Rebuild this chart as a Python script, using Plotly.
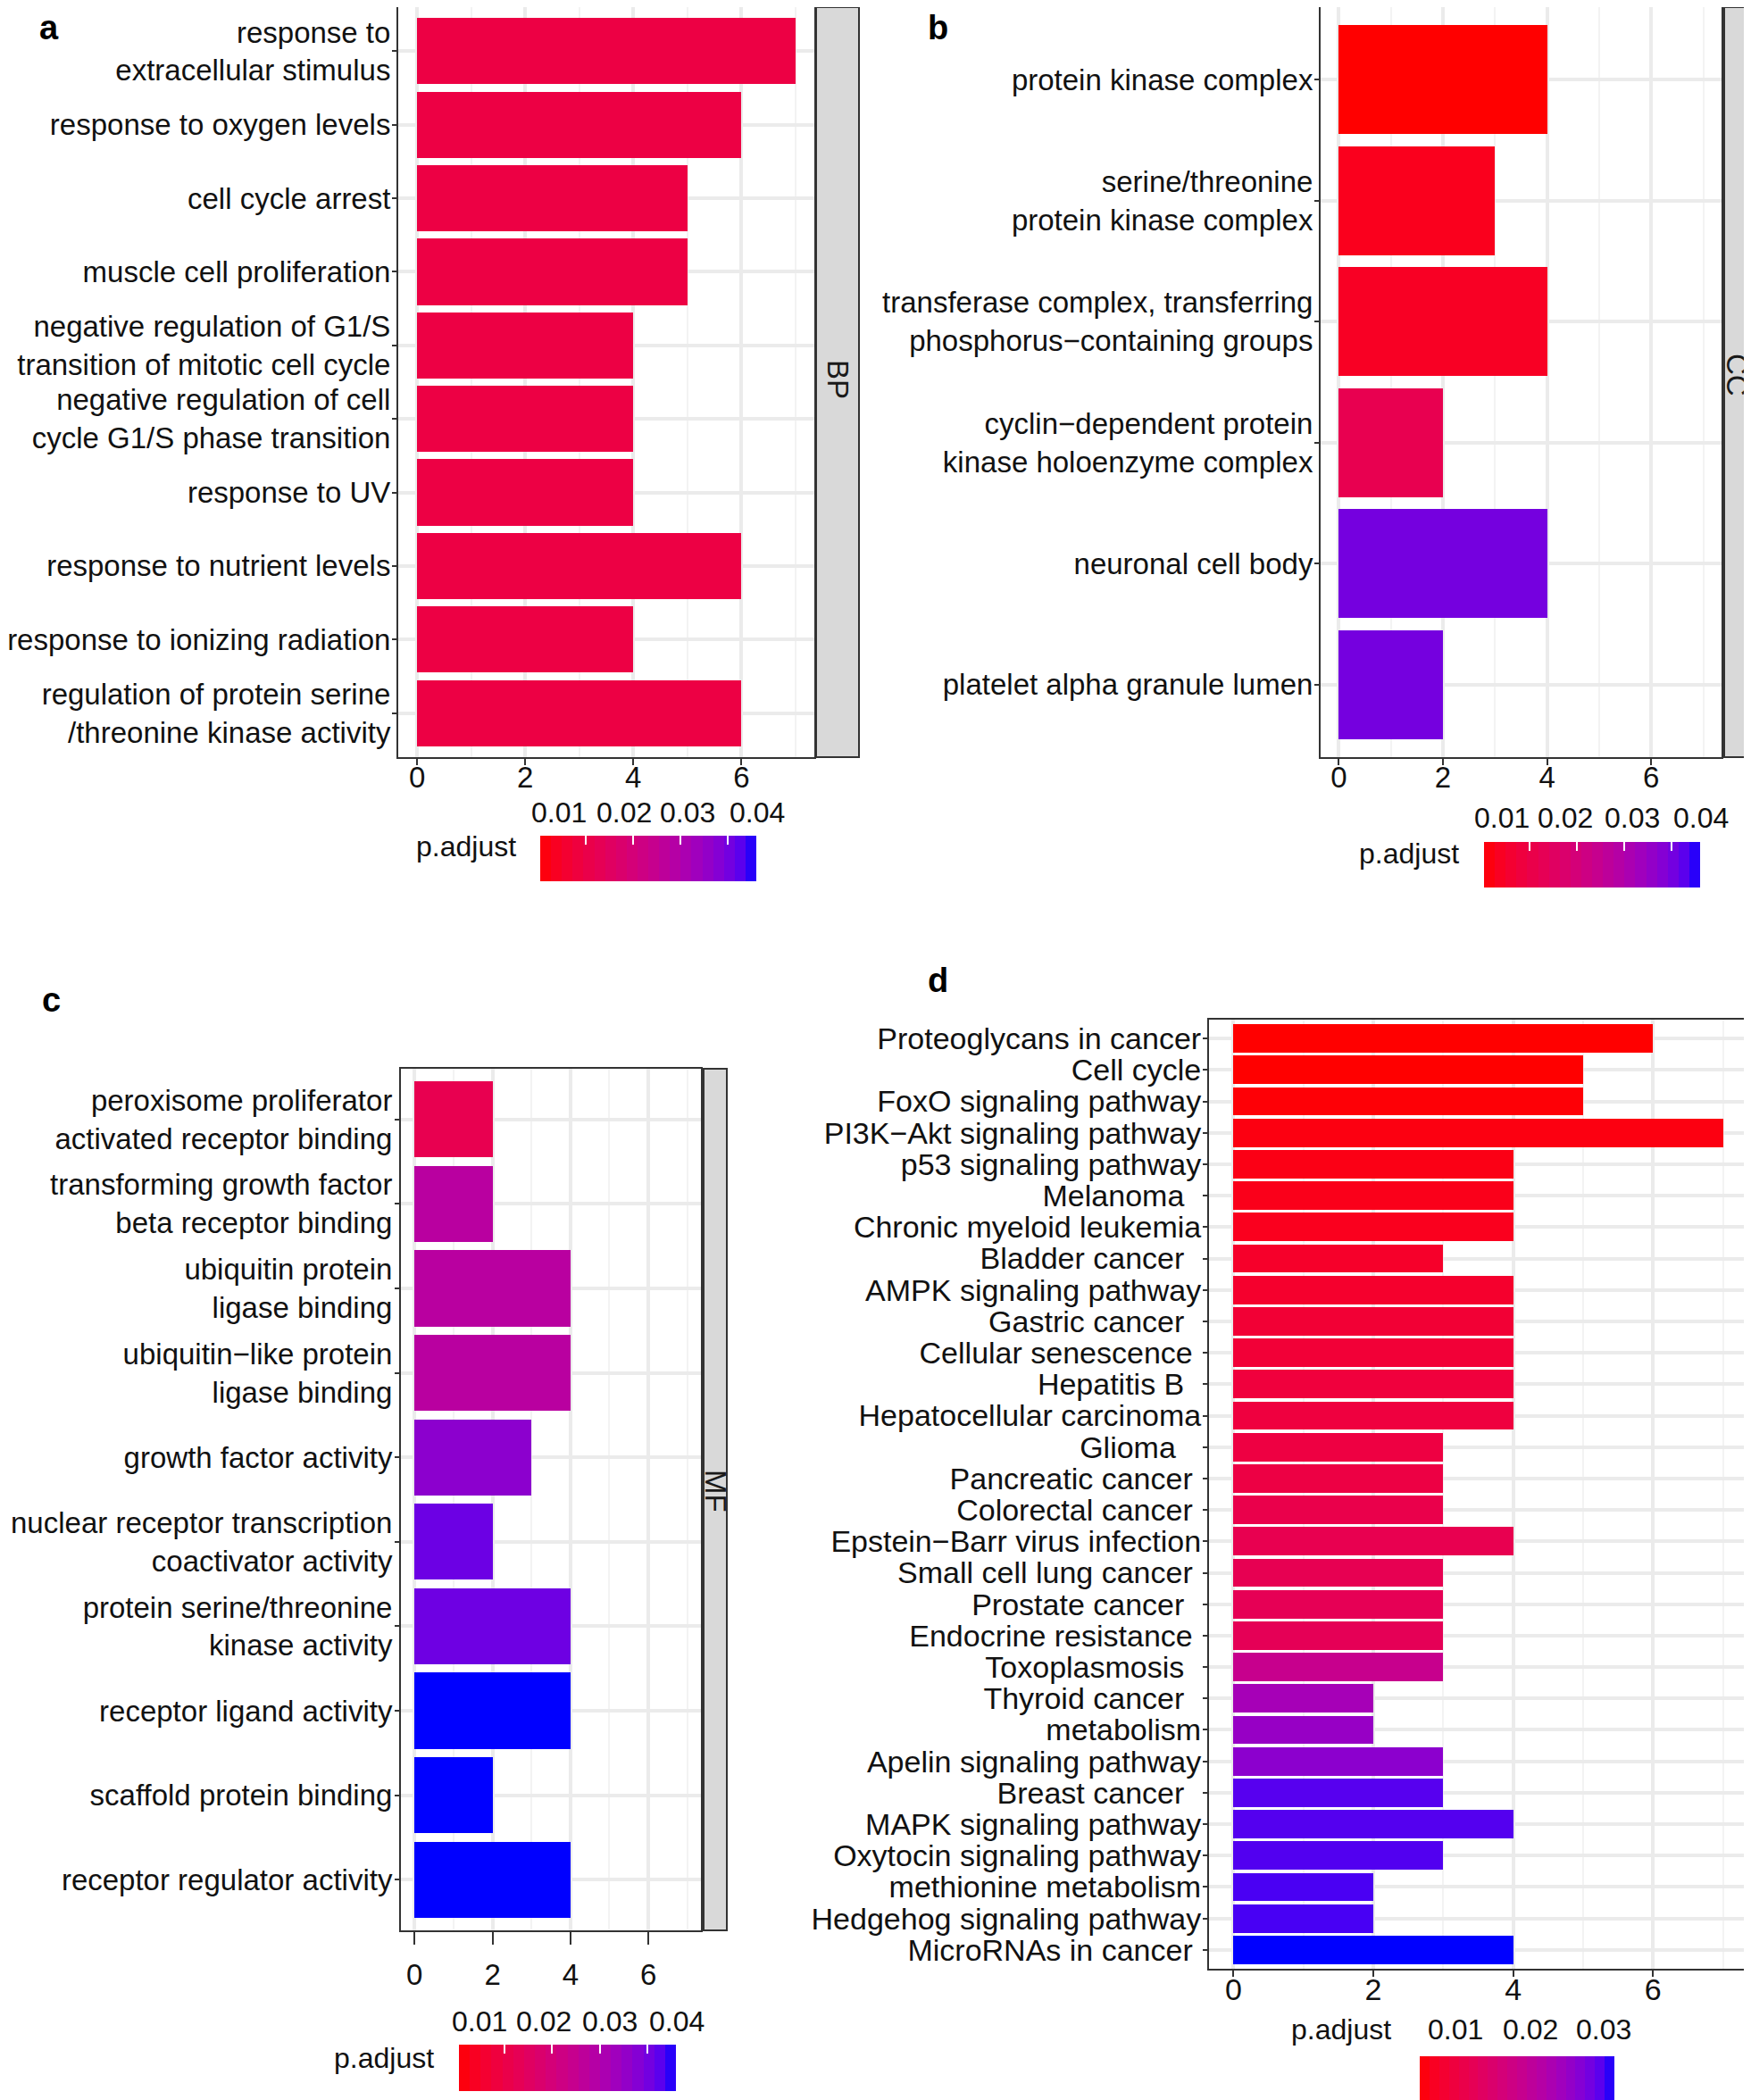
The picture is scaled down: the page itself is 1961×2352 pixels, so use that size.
import numpy as np
import plotly.graph_objects as go

W, H = 1961, 2352
OFF = 8  # the page body adds an 8 px margin; reference coordinates are shifted by it
FONT = "Liberation Sans, Arial, Helvetica, sans-serif"

# ---------------- data ----------------
BP_TERMS = [
    "response to<br>extracellular stimulus",
    "response to oxygen levels",
    "cell cycle arrest",
    "muscle cell proliferation",
    "negative regulation of G1/S<br>transition of mitotic cell cycle",
    "negative regulation of cell<br>cycle G1/S phase transition",
    "response to UV",
    "response to nutrient levels",
    "response to ionizing radiation",
    "regulation of protein serine<br>/threonine kinase activity",
]
BP_COUNT = [7, 6, 5, 5, 4, 4, 4, 6, 4, 6]
BP_PADJ = [0.0096, 0.0096, 0.0096, 0.0096, 0.0096, 0.0096, 0.0096, 0.0096, 0.0096, 0.0096]

CC_TERMS = [
    "protein kinase complex",
    "serine/threonine<br>protein kinase complex",
    "transferase complex, transferring<br>phosphorus\u2212containing groups",
    "cyclin\u2212dependent protein<br>kinase holoenzyme complex",
    "neuronal cell body",
    "platelet alpha granule lumen",
]
CC_COUNT = [4, 3, 4, 2, 4, 2]
CC_PADJ = [0.0005, 0.0032, 0.0041, 0.0119, 0.0401, 0.0401]

MF_TERMS = [
    "peroxisome proliferator<br>activated receptor binding",
    "transforming growth factor<br>beta receptor binding",
    "ubiquitin protein<br>ligase binding",
    "ubiquitin\u2212like protein<br>ligase binding",
    "growth factor activity",
    "nuclear receptor transcription<br>coactivator activity",
    "protein serine/threonine<br>kinase activity",
    "receptor ligand activity",
    "scaffold protein binding",
    "receptor regulator activity",
]
MF_COUNT = [2, 2, 4, 4, 3, 2, 4, 4, 2, 4]
MF_PADJ = [0.0119, 0.0278, 0.0278, 0.0278, 0.0369, 0.0410, 0.0408, 0.0460, 0.0460, 0.0460]

KEGG_TERMS = [
    "Proteoglycans in cancer",
    "Cell cycle",
    "FoxO signaling pathway",
    "PI3K\u2212Akt signaling pathway",
    "p53 signaling pathway",
    "Melanoma\u00a0\u00a0",
    "Chronic myeloid leukemia",
    "Bladder cancer\u00a0\u00a0",
    "AMPK signaling pathway",
    "Gastric cancer\u00a0\u00a0",
    "Cellular senescence\u00a0",
    "Hepatitis B\u00a0\u00a0",
    "Hepatocellular carcinoma",
    "Glioma\u00a0\u00a0\u00a0",
    "Pancreatic cancer\u00a0",
    "Colorectal cancer\u00a0",
    "Epstein\u2212Barr virus infection",
    "Small cell lung cancer\u00a0",
    "Prostate cancer\u00a0\u00a0",
    "Endocrine resistance\u00a0",
    "Toxoplasmosis\u00a0\u00a0",
    "Thyroid cancer\u00a0\u00a0",
    "metabolism",
    "Apelin signaling pathway",
    "Breast cancer\u00a0\u00a0",
    "MAPK signaling pathway",
    "Oxytocin signaling pathway",
    "methionine metabolism",
    "Hedgehog signaling pathway",
    "MicroRNAs in cancer\u00a0",
]
KEGG_COUNT = [6, 5, 5, 7, 4, 4, 4, 3, 4, 4, 4, 4, 4, 3, 3, 3, 4, 3, 3, 3,
              3, 2, 2, 3, 3, 4, 3, 2, 2, 4]
KEGG_PADJ = [0.0051, 0.0051, 0.0054, 0.0059, 0.0061, 0.0064, 0.0067, 0.0077,
             0.0080, 0.0088, 0.0090, 0.0096, 0.0098, 0.0101, 0.0103, 0.0111,
             0.0117, 0.0119, 0.0122, 0.0124, 0.0187, 0.0234, 0.0250, 0.0261,
             0.0295, 0.0296, 0.0297, 0.0300, 0.0301, 0.0313]

COUNT_TICKS = [0, 2, 4, 6]
COUNT_MINOR = [1, 3, 5, 7]
PADJ_TICKS_GO = [0.01, 0.02, 0.03, 0.04]
PADJ_TICKS_KEGG = [0.01, 0.02, 0.03]
PADJ_LIMITS_GO = (0.0005, 0.0460)
PADJ_LIMITS_KEGG = (0.0051, 0.0313)


# ---------------- colour scale: red -> blue interpolated in CIELAB ----------------
_M = np.array([[0.4124, 0.3576, 0.1805], [0.2126, 0.7152, 0.0722], [0.0193, 0.1192, 0.9505]])
_MI = np.linalg.inv(_M)
_WP = np.array([0.95047, 1.0, 1.08883])


def _to_lab(rgb):
    c = np.array(rgb) / 255.0
    lin = np.where(c <= 0.04045, c / 12.92, ((c + 0.055) / 1.055) ** 2.4)
    xyz = _M @ lin / _WP
    d = 6 / 29
    f = np.where(xyz > d ** 3, np.cbrt(xyz), xyz / (3 * d * d) + 4 / 29)
    return np.array([116 * f[1] - 16, 500 * (f[0] - f[1]), 200 * (f[1] - f[2])])


def _from_lab(lab):
    L, a, b = lab
    fy = (L + 16) / 116
    f = np.array([fy + a / 500, fy, fy - b / 200])
    d = 6 / 29
    xyz = np.where(f > d, f ** 3, 3 * d * d * (f - 4 / 29)) * _WP
    lin = np.clip(_MI @ xyz, 0, 1)
    c = np.where(lin <= 0.0031308, 12.92 * lin, 1.055 * lin ** (1 / 2.4) - 0.055)
    r, g, bb = np.clip(np.round(c * 255), 0, 255).astype(int)
    return f"rgb({r},{g},{bb})"


_lo, _hi = _to_lab((255, 0, 0)), _to_lab((0, 0, 255))
CSCALE = [[t, _from_lab(_lo + (_hi - _lo) * t)] for t in np.linspace(0, 1, 25)]


# ---------------- helpers ----------------
def px(x):
    return (x - OFF) / W


def py(y):
    return 1 - (y - OFF) / H


def clamp(v):
    return min(1.0, max(0.0, v))


fig = go.Figure()

AX_COL = "#333333"
GRID = "#EBEBEB"
GRID_MINOR = "#F3F3F3"


def add_panel(k, terms, counts, padj, limits, xdom, ydom, ticklen_x=7, standoff_x=-15,
              fsize=33, standoff_y=-5):
    n = len(terms)
    xa, ya = (f"x{k}", f"y{k}") if k > 1 else ("x", "y")
    fig.add_trace(go.Bar(
        x=counts, y=list(range(n)), orientation="h", width=0.9,
        marker=dict(color=padj, colorscale=CSCALE, cmin=limits[0], cmax=limits[1],
                    line=dict(width=0)),
        showlegend=False, hoverinfo="x+y", xaxis=xa, yaxis=ya))
    name = "" if k == 1 else str(k)
    fig.layout[f"xaxis{name}"] = dict(
        domain=[clamp(px(xdom[0])), clamp(px(xdom[1]))], anchor=ya, range=[-0.35, 7.35],
        automargin=False,
        tickmode="array", tickvals=COUNT_TICKS, ticks="outside", ticklen=ticklen_x,
        tickwidth=2, tickcolor=AX_COL, ticklabelstandoff=standoff_x,
        showline=True, mirror=True, linecolor=AX_COL, linewidth=2,
        showgrid=True, gridcolor=GRID, gridwidth=3.5, zeroline=False,
        minor=dict(tickvals=COUNT_MINOR, showgrid=True, gridcolor=GRID_MINOR, gridwidth=2),
        tickfont=dict(size=fsize, color="#111111", family=FONT), layer="below traces")
    fig.layout[f"yaxis{name}"] = dict(
        domain=[clamp(py(ydom[1])), clamp(py(ydom[0]))], anchor=xa, range=[n - 0.4, -0.6],
        automargin=False,
        tickmode="array", tickvals=list(range(n)), ticktext=terms,
        ticks="outside", ticklen=5, tickwidth=2, tickcolor=AX_COL, ticklabelstandoff=standoff_y,
        showline=True, mirror=True, linecolor=AX_COL, linewidth=2,
        showgrid=True, gridcolor=GRID, gridwidth=3.5, zeroline=False,
        tickfont=dict(size=fsize, color="#111111", family=FONT), layer="below traces")


def add_cbar(k, limits, ticks, xdom, ydom, show_ticks=True):
    edges = np.linspace(limits[0], limits[1], 21)
    mids = (edges[:-1] + edges[1:]) / 2
    fig.add_trace(go.Heatmap(
        x=edges, y=[0, 1], z=[mids], colorscale=CSCALE, zmin=limits[0], zmax=limits[1],
        showscale=False, hoverinfo="skip", xaxis=f"x{k}", yaxis=f"y{k}"))
    fig.layout[f"xaxis{k}"] = dict(
        domain=[clamp(px(xdom[0])), clamp(px(xdom[1]))], anchor=f"y{k}", range=list(limits),
        automargin=False,
        side="top", tickmode="array", tickvals=ticks, ticks="inside" if show_ticks else "",
        ticklen=10, tickwidth=2, tickcolor="white", showticklabels=False,
        showgrid=False, zeroline=False, showline=False, layer="above traces")
    fig.layout[f"yaxis{k}"] = dict(
        domain=[clamp(py(ydom[1])), clamp(py(ydom[0]))], anchor=f"x{k}", range=[0, 1],
        automargin=False, visible=False)


# panels
add_panel(1, BP_TERMS, BP_COUNT, BP_PADJ, PADJ_LIMITS_GO, (446, 912), (2, 848))
add_panel(2, CC_TERMS, CC_COUNT, CC_PADJ, PADJ_LIMITS_GO, (1479, 1928), (3, 848))
add_panel(3, MF_TERMS, MF_COUNT, MF_PADJ, PADJ_LIMITS_GO, (449, 785), (1197, 2162),
          ticklen_x=14, standoff_x=5, standoff_y=-4)
add_panel(4, KEGG_TERMS, KEGG_COUNT, KEGG_PADJ, PADJ_LIMITS_KEGG,
          (1354, 1957), (1142, 2205), ticklen_x=7, standoff_x=-15, fsize=34, standoff_y=-5)

# colour bars
add_cbar(5, PADJ_LIMITS_GO, PADJ_TICKS_GO, (605, 847), (936, 987))
add_cbar(6, PADJ_LIMITS_GO, PADJ_TICKS_GO, (1662, 1904), (943, 994))
add_cbar(7, PADJ_LIMITS_GO, PADJ_TICKS_GO, (514, 757), (2290, 2342))
add_cbar(8, PADJ_LIMITS_KEGG, PADJ_TICKS_KEGG, (1590, 1808), (2303, 2360), show_ticks=False)

annotations = []
shapes = []


def ann(text, x, y, size=33, bold=False, angle=0, xanchor="center", yanchor="middle", color="#111111"):
    annotations.append(dict(
        text=f"<b>{text}</b>" if bold else text, x=px(x), y=min(py(y), 1.0), xref="paper",
        yref="paper", showarrow=False, textangle=angle, xanchor=xanchor, yanchor=yanchor,
        font=dict(size=size, color=color, family=FONT)))


# panel letters
ann("a", 55, 8, size=38, bold=True, color="black", yanchor="top")
ann("b", 1050, 8, size=38, bold=True, color="black", yanchor="top")
ann("c", 57, 1120, size=38, bold=True, color="black")
ann("d", 1050, 1098, size=38, bold=True, color="black")

# facet strips
for (x0, x1, y0, y1, lab, ty) in [(914, 962, 2, 848, "BP", 425),
                                  (1931, 1959, 3, 848, "CC", 420),
                                  (788, 814, 1197, 2162, "MF", 1670)]:
    shapes.append(dict(type="rect", xref="paper", yref="paper", x0=px(x0), x1=px(x1),
                       y0=py(y1), y1=min(py(y0), 1.0), fillcolor="#D9D9D9",
                       line=dict(color=AX_COL, width=2), layer="below"))
    ann(lab, (x0 + x1) / 2 + 1, ty, size=33, angle=90, color="#1A1A1A")

# colour bar legends: title and tick labels
cb_labels = [
    (PADJ_TICKS_GO, [626, 699, 770, 848], 910, (522, 948)),
    (PADJ_TICKS_GO, [1682, 1753, 1828, 1905], 916, (1578, 956)),
    (PADJ_TICKS_GO, [537, 609, 683, 758], 2264, (430, 2305)),
    (PADJ_TICKS_KEGG, [1630, 1714, 1796], 2273, (1502, 2273)),
]
for ticks, xs, yl, (tx, ty) in cb_labels:
    for v, xx in zip(ticks, xs):
        ann(f"{v:.2f}", xx, yl, size=32)
    ann("p.adjust", tx, ty, size=32)

fig.update_layout(
    width=W, height=H, margin=dict(l=0, r=0, t=0, b=0, autoexpand=False),
    paper_bgcolor="white", plot_bgcolor="white",
    font=dict(family=FONT, size=33, color="#111111"),
    annotations=annotations, shapes=shapes, showlegend=False, bargap=0,
)

fig.write_html("out.html")
